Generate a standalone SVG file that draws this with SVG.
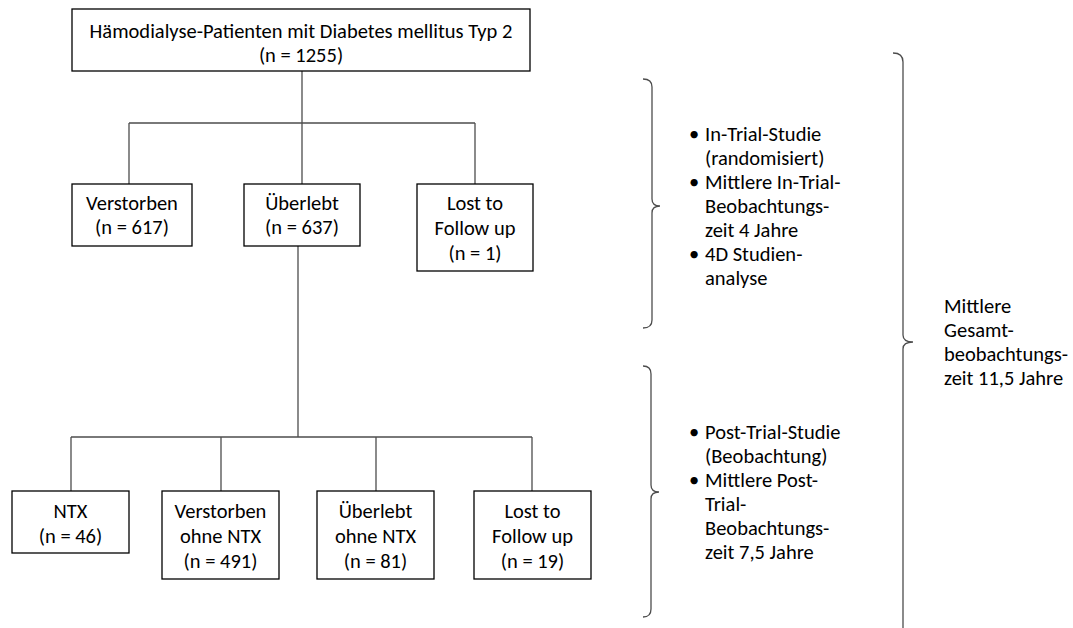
<svg xmlns="http://www.w3.org/2000/svg" width="1073" height="628" viewBox="0 0 1073 628">
<style>
.box{fill:#fff;stroke:#000;stroke-width:1.3}
.t{font-family:Carlito,Calibri,Lato,"Liberation Sans",sans-serif;font-size:20.5px;fill:#000}
.c{text-anchor:middle}
.ln{stroke:#4d4d4d;stroke-width:1.3;fill:none}
.br{stroke:#4d4d4d;stroke-width:1.3;fill:none}
</style>
<rect width="1073" height="628" fill="#fff"/>
<g id="connectors">
<path class="ln" d="M302,71V123M129,123H475M129,123V184M302,123V184M475,123V184"/>
<path class="ln" d="M298,246V437M71,437H532M71,437V491M221,437V491M376,437V491M532,437V491"/>
</g>
<g id="n-top"><rect class="box" x="72" y="9" width="458" height="62"/>
<text class="t c" x="301" y="38">Hämodialyse-Patienten mit Diabetes mellitus Typ 2</text>
<text class="t c" x="301" y="62">(n = 1255)</text></g>
<g id="n-verstorben"><rect class="box" x="72" y="184" width="120" height="62"/>
<text class="t c" x="132" y="210">Verstorben</text><text class="t c" x="132" y="234">(n = 617)</text></g>
<g id="n-ueberlebt"><rect class="box" x="244" y="184" width="116" height="62"/>
<text class="t c" x="302" y="210">Überlebt</text><text class="t c" x="302" y="234">(n = 637)</text></g>
<g id="n-lost1"><rect class="box" x="417" y="184" width="116" height="87"/>
<text class="t c" x="475" y="210">Lost to</text><text class="t c" x="475" y="235">Follow up</text><text class="t c" x="475" y="260">(n = 1)</text></g>
<g id="n-ntx"><rect class="box" x="12" y="491" width="117" height="62"/>
<text class="t c" x="70.5" y="518">NTX</text><text class="t c" x="70.5" y="543">(n = 46)</text></g>
<g id="n-verstorben-ohne"><rect class="box" x="162" y="491" width="117" height="88"/>
<text class="t c" x="220.5" y="518">Verstorben</text><text class="t c" x="220.5" y="543">ohne NTX</text><text class="t c" x="220.5" y="568">(n = 491)</text></g>
<g id="n-ueberlebt-ohne"><rect class="box" x="317" y="491" width="117" height="88"/>
<text class="t c" x="375.5" y="518">Überlebt</text><text class="t c" x="375.5" y="543">ohne NTX</text><text class="t c" x="375.5" y="568">(n = 81)</text></g>
<g id="n-lost2"><rect class="box" x="474" y="491" width="117" height="88"/>
<text class="t c" x="532.5" y="518">Lost to</text><text class="t c" x="532.5" y="543">Follow up</text><text class="t c" x="532.5" y="568">(n = 19)</text></g>
<g id="bracket-intrial">
<path class="br" d="M643,79 Q652,79 652,87 V199 Q652,206 660,206 Q652,206 652,213 V320 Q652,328 643,328"/>
<text class="t"><tspan x="689" y="141">•</tspan><tspan x="705" y="141">In-Trial-Studie</tspan><tspan x="705" y="165">(randomisiert)</tspan><tspan x="689" y="189">•</tspan><tspan x="705" y="189">Mittlere In-Trial-</tspan><tspan x="705" y="213">Beobachtungs-</tspan><tspan x="705" y="237">zeit 4 Jahre</tspan><tspan x="689" y="261">•</tspan><tspan x="705" y="261">4D Studien-</tspan><tspan x="705" y="285">analyse</tspan></text>
</g>
<g id="bracket-posttrial">
<path class="br" d="M643,366 Q651,366 651,374 V485 Q651,492 659,492 Q651,492 651,499 V609 Q651,617 643,617"/>
<text class="t"><tspan x="689" y="439">•</tspan><tspan x="705" y="439">Post-Trial-Studie</tspan><tspan x="705" y="463">(Beobachtung)</tspan><tspan x="689" y="487">•</tspan><tspan x="705" y="487">Mittlere Post-</tspan><tspan x="705" y="511">Trial-</tspan><tspan x="705" y="535">Beobachtungs-</tspan><tspan x="705" y="559">zeit 7,5 Jahre</tspan></text>
</g>
<g id="bracket-gesamt">
<path class="br" d="M893,53 Q903,53 903,62 V335 Q903,342 913,342 Q903,342 903,349 V630"/>
<text class="t"><tspan x="944" y="313">Mittlere</tspan><tspan x="944" y="337">Gesamt-</tspan><tspan x="944" y="361">beobachtungs-</tspan><tspan x="944" y="385">zeit 11,5 Jahre</tspan></text>
</g>
</svg>
